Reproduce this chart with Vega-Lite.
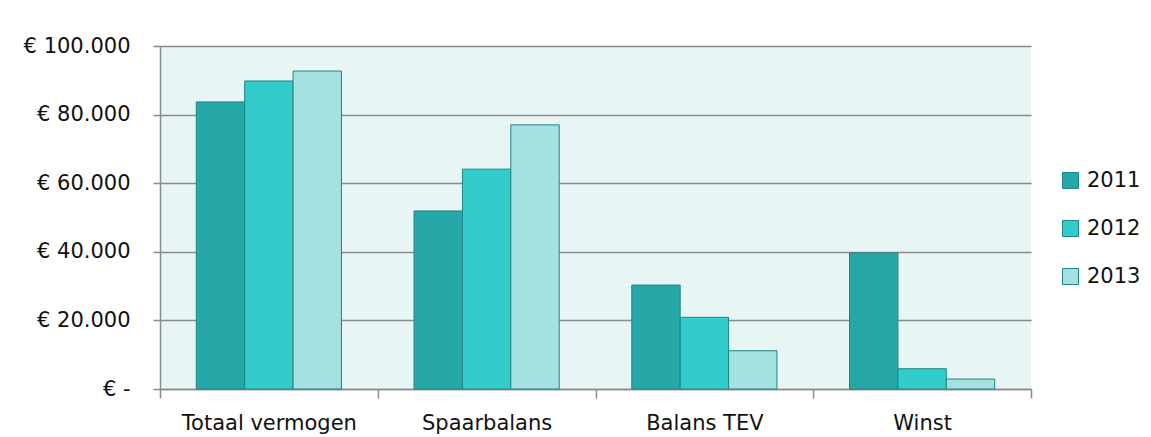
{
  "$schema": "https://vega.github.io/schema/vega-lite/v6.json",
  "autosize": "none",
  "width": 871,
  "height": 343,
  "padding": {"left": 160, "top": 46, "right": 120, "bottom": 48},
  "background": "#ffffff",
  "config": {
    "font": "DejaVu Sans",
    "view": {"fill": "#E7F5F5", "stroke": null},
    "axis": {
      "labelFont": "DejaVu Sans",
      "labelFontSize": 21,
      "labelColor": "#111111",
      "domainColor": "#8A8A8A",
      "domainWidth": 1.5,
      "tickColor": "#8A8A8A",
      "tickWidth": 1.5,
      "gridColor": "#8A8A8A",
      "gridWidth": 1.5
    },
    "legend": {
      "labelFont": "DejaVu Sans",
      "labelFontSize": 21,
      "labelColor": "#111111"
    }
  },
  "data": {
    "values": [
      {"categorie": "Totaal vermogen", "jaar": "2011", "waarde": 83700},
      {"categorie": "Totaal vermogen", "jaar": "2012", "waarde": 89800},
      {"categorie": "Totaal vermogen", "jaar": "2013", "waarde": 92700},
      {"categorie": "Spaarbalans", "jaar": "2011", "waarde": 51900},
      {"categorie": "Spaarbalans", "jaar": "2012", "waarde": 64100},
      {"categorie": "Spaarbalans", "jaar": "2013", "waarde": 77000},
      {"categorie": "Balans TEV", "jaar": "2011", "waarde": 30300},
      {"categorie": "Balans TEV", "jaar": "2012", "waarde": 20900},
      {"categorie": "Balans TEV", "jaar": "2013", "waarde": 11150},
      {"categorie": "Winst", "jaar": "2011", "waarde": 39650},
      {"categorie": "Winst", "jaar": "2012", "waarde": 5900},
      {"categorie": "Winst", "jaar": "2013", "waarde": 2900}
    ]
  },
  "mark": {"type": "bar", "stroke": "#1F8585", "strokeWidth": 1},
  "encoding": {
    "x": {
      "field": "categorie",
      "type": "nominal",
      "sort": ["Totaal vermogen", "Spaarbalans", "Balans TEV", "Winst"],
      "scale": {"paddingInner": 0, "paddingOuter": 0},
      "axis": {
        "title": null,
        "labelAngle": 0,
        "tickBand": "extent",
        "tickSize": 9,
        "labelPadding": 14,
        "grid": false
      }
    },
    "xOffset": {
      "field": "jaar",
      "type": "nominal",
      "scale": {"paddingInner": 0, "paddingOuter": 0.75}
    },
    "y": {
      "field": "waarde",
      "type": "quantitative",
      "scale": {"domain": [0, 100000], "nice": false},
      "axis": {
        "title": null,
        "values": [0, 20000, 40000, 60000, 80000, 100000],
        "tickSize": 7,
        "labelPadding": 23,
        "grid": true,
        "labelExpr": "datum.value == 0 ? '€ -' : '€ ' + format(datum.value / 1000, 'd') + '.000'"
      }
    },
    "fill": {
      "field": "jaar",
      "type": "nominal",
      "scale": {"domain": ["2011", "2012", "2013"], "range": ["#27A8A8", "#33CCCC", "#A5E1E1"]},
      "legend": {
        "title": null,
        "orient": "none",
        "legendX": 900,
        "legendY": 124,
        "padding": 0,
        "symbolType": "square",
        "symbolSize": 256,
        "symbolStrokeColor": "#1F8585",
        "symbolStrokeWidth": 1,
        "labelOffset": 6,
        "rowPadding": 26
      }
    }
  }
}
